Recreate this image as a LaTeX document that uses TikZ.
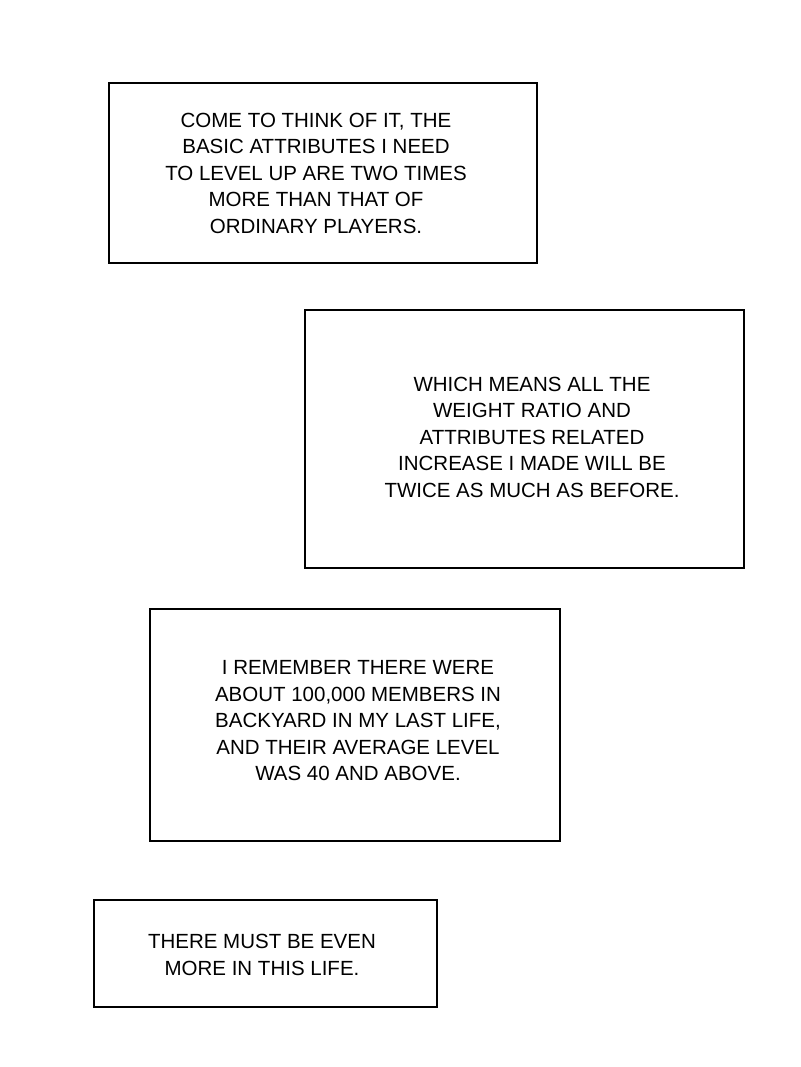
\documentclass[tikz,border=0pt]{standalone}
\usepackage{fontspec}
\setmainfont{Liberation Sans}
\begin{document}
\begin{tikzpicture}[x=1pt,y=-1pt,
  panel/.style={draw=black,line width=1.6pt},
  caption/.style={align=center,font=\fontsize{20.5}{26.5}\selectfont,inner sep=0pt}]
\useasboundingbox[fill=white] (0,0) rectangle (800,1067);
\draw[panel] (109,83) rectangle (537,263);
\node[caption] (t1) at (316,173) {COME TO THINK OF IT, THE\\BASIC ATTRIBUTES I NEED\\TO LEVEL UP ARE TWO TIMES\\MORE THAN THAT OF\\ORDINARY PLAYERS.};
\draw[panel] (305,310) rectangle (744,568);
\node[caption] (t2) at (532,437) {WHICH MEANS ALL THE\\WEIGHT RATIO AND\\ATTRIBUTES RELATED\\INCREASE I MADE WILL BE\\TWICE AS MUCH AS BEFORE.};
\draw[panel] (150,609) rectangle (560,841);
\node[caption] (t3) at (358,721) {I REMEMBER THERE WERE\\ABOUT 100,000 MEMBERS IN\\BACKYARD IN MY LAST LIFE,\\AND THEIR AVERAGE LEVEL\\WAS 40 AND ABOVE.};
\draw[panel] (94,900) rectangle (437,1007);
\node[caption] (t4) at (262,955) {THERE MUST BE EVEN\\MORE IN THIS LIFE.};
\end{tikzpicture}
\end{document}
